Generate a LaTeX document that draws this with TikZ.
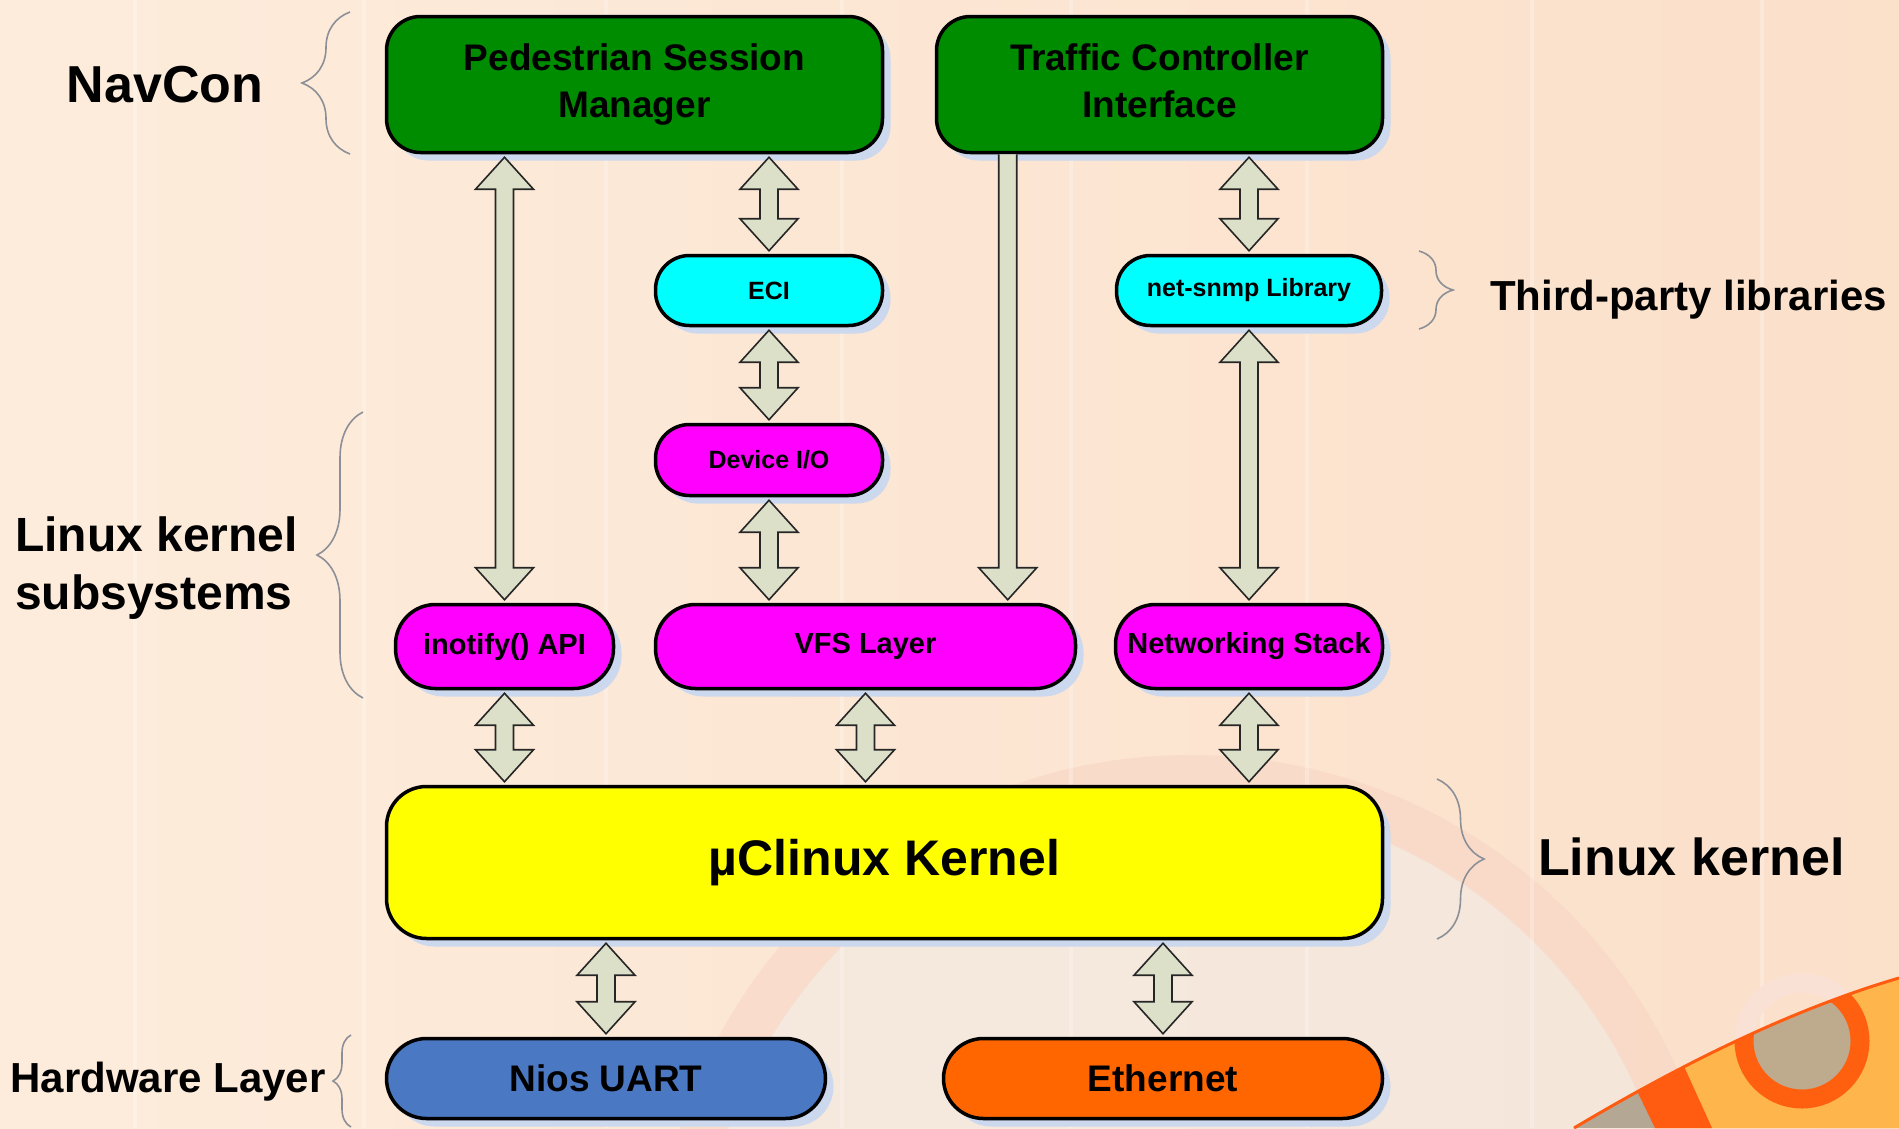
\documentclass[tikz,border=0pt]{standalone}
\usepackage{fontspec}
\setmainfont{Liberation Sans}
\usetikzlibrary{calc,shadows,decorations.pathreplacing}

\definecolor{bgL}{HTML}{FDECDC}
\definecolor{bgR}{HTML}{FBE0CA}
\definecolor{grn}{HTML}{008C00}
\definecolor{cyn}{HTML}{00FFFF}
\definecolor{mag}{HTML}{FF00FF}
\definecolor{yel}{HTML}{FFFF00}
\definecolor{blu}{HTML}{4A78C2}
\definecolor{org}{HTML}{FF6600}
\definecolor{shd}{HTML}{CBD8EE}
\definecolor{arr}{HTML}{DDE0C8}
\definecolor{brc}{HTML}{8C9096}
\definecolor{ringpink}{HTML}{F8D4C4}
\definecolor{ringin}{HTML}{F1EAE4}
\definecolor{swgrey}{HTML}{B4A794}
\definecolor{swyel}{HTML}{FDB54C}
\definecolor{sworg}{HTML}{FF5C12}
\definecolor{swtan}{HTML}{BEAB8E}

\tikzset{
  box/.style={draw=black, line width=3.5pt, align=center, inner sep=0pt,
    font=\bfseries, text=black,
    drop shadow={shadow xshift=8pt, shadow yshift=-8pt, fill=shd, opacity=1}},
  lbl/.style={inner sep=0pt, font=\bfseries, text=black},
  bracestyle/.style={draw=brc, line width=1.6pt, decorate},
  arrline/.style={draw=black!85, line width=1.6pt, line join=miter},
}

% double-headed block arrow from top point #1 to bottom point #2
\newcommand\dblarrow[2]{%
  \path[arrline, fill=arr] let \p1=#1, \p2=#2 in
   (\x1,\y1) -- (\x1+29pt,\y1-32pt) -- (\x1+9pt,\y1-32pt) -- (\x1+9pt,\y2+32pt)
   -- (\x1+29pt,\y2+32pt) -- (\x1,\y2) -- (\x1-29pt,\y2+32pt) -- (\x1-9pt,\y2+32pt)
   -- (\x1-9pt,\y1-32pt) -- (\x1-29pt,\y1-32pt) -- cycle;}
% single-headed block arrow pointing down
\newcommand\sglarrow[2]{%
  \path[fill=arr] let \p1=#1, \p2=#2 in
   (\x1-9pt,\y1) -- (\x1+9pt,\y1) -- (\x1+9pt,\y2+32pt) -- (\x1+29pt,\y2+32pt)
   -- (\x1,\y2) -- (\x1-29pt,\y2+32pt) -- (\x1-9pt,\y2+32pt) -- cycle;
  \path[arrline] let \p1=#1, \p2=#2 in
   (\x1+9pt,\y1) -- (\x1+9pt,\y2+32pt) -- (\x1+29pt,\y2+32pt)
   -- (\x1,\y2) -- (\x1-29pt,\y2+32pt) -- (\x1-9pt,\y2+32pt) -- (\x1-9pt,\y1);}

\begin{document}
\begin{tikzpicture}[x=1pt,y=-1pt]
\useasboundingbox (0,0) rectangle (1899,1128);

% ---------- background ----------
\shade[left color=bgL, right color=bgR] (0,0) rectangle (1899,1128);
\begin{scope}
  \clip (0,0) rectangle (1899,1128);
  \fill[ringin, opacity=0.6] (1190,1290) circle (490);
  \draw[ringpink, line width=46pt, opacity=0.55] (1190,1290) circle (512);
\end{scope}
\foreach \sx in {135,364,606,842,1071,1307,1532,1762}
  \draw[white, opacity=0.25, line width=4pt] (\sx,0) -- (\sx,1128);
% bottom-right swoosh
\draw[ringpink!70!white, line width=19pt] (1802,1041) circle (58);
\begin{scope}
  \clip (1574,1128) .. controls (1680,1065) and (1790,1010) .. (1899,978) -- (1899,1128) -- cycle;
  \fill[swgrey] (1500,900) rectangle (1899,1128);
  \fill[swyel] (1662,1000) -- (1899,900) -- (1899,1128) -- (1700,1128) -- cycle;
  \fill[sworg] (1622,1060) -- (1672,1040) -- (1712,1128) -- (1655,1128) -- cycle;
  \fill[swtan] (1802,1041) circle (49);
  \draw[sworg!90!orange, line width=19pt] (1802,1041) circle (58);
\end{scope}
\draw[sworg, line width=3pt] (1574,1128) .. controls (1680,1065) and (1790,1010) .. (1899,978);

% ---------- boxes ----------
\node[box, fill=grn, rounded corners=34pt, minimum width=496pt, minimum height=136pt,
      font=\fontsize{37}{47}\selectfont\bfseries] (psm) at (634.5,84.5) {Pedestrian Session\\Manager};
\node[box, fill=grn, rounded corners=34pt, minimum width=446pt, minimum height=136pt,
      font=\fontsize{37}{47}\selectfont\bfseries] (tci) at (1159.5,84.5) {Traffic Controller\\Interface\vphantom{g}};
\node[box, fill=cyn, rounded corners=34pt, minimum width=227pt, minimum height=70pt,
      font=\fontsize{25}{30}\selectfont\bfseries] (eci) at (769,290.5) {ECI};
\node[box, fill=cyn, rounded corners=34pt, minimum width=265pt, minimum height=70pt,
      font=\fontsize{25}{30}\selectfont\bfseries] (snmp) at (1249,290.5) {net-snmp Library};
\node[box, fill=mag, rounded corners=34pt, minimum width=227pt, minimum height=71pt,
      font=\fontsize{25}{30}\selectfont\bfseries] (dio) at (769,460) {Device I/O};
\node[box, fill=mag, rounded corners=40pt, minimum width=218pt, minimum height=84pt,
      font=\fontsize{29}{35}\selectfont\bfseries] (ino) at (504.5,646.5) {inotify() API};
\node[box, fill=mag, rounded corners=40pt, minimum width=420pt, minimum height=84pt,
      font=\fontsize{29}{35}\selectfont\bfseries] (vfs) at (865.5,646.5) {VFS Layer};
\node[box, fill=mag, rounded corners=40pt, minimum width=267pt, minimum height=84pt,
      font=\fontsize{29}{35}\selectfont\bfseries] (net) at (1249,646.5) {Networking Stack};
\node[box, fill=yel, rounded corners=40pt, minimum width=996pt, minimum height=152pt,
      font=\fontsize{50}{60}\selectfont\bfseries] (ker) at (884.5,862.5) {µClinux Kernel};
\node[box, fill=blu, rounded corners=40pt, minimum width=439pt, minimum height=80pt,
      font=\fontsize{37}{45}\selectfont\bfseries] (nios) at (606,1078.5) {Nios UART};
\node[box, fill=org, rounded corners=40pt, minimum width=439pt, minimum height=80pt,
      font=\fontsize{37}{45}\selectfont\bfseries] (eth) at (1163,1078.5) {Ethernet};

% ---------- connectors ----------
\dblarrow{([yshift=-3pt]ino.north |- psm.south)}{([yshift=3pt]ino.north)}
\dblarrow{([yshift=-3pt]eci.north |- psm.south)}{([yshift=3pt]eci.north)}
\dblarrow{([yshift=-3pt]eci.south)}{([yshift=3pt]dio.north)}
\dblarrow{([yshift=-3pt]dio.south)}{([yshift=3pt]dio.south |- vfs.north)}
\sglarrow{([xshift=73pt]tci.south west)}{([xshift=73pt,yshift=3pt]tci.south west |- vfs.north)}
\dblarrow{([yshift=-3pt]snmp.north |- tci.south)}{([yshift=3pt]snmp.north)}
\dblarrow{([yshift=-3pt]snmp.south)}{([yshift=3pt]net.north)}
\dblarrow{([yshift=-3pt]ino.south)}{([yshift=3pt]ino.south |- ker.north)}
\dblarrow{([yshift=-3pt]vfs.south)}{([yshift=3pt]vfs.south |- ker.north)}
\dblarrow{([yshift=-3pt]net.south)}{([yshift=3pt]net.south |- ker.north)}
\dblarrow{([yshift=-3pt]nios.north |- ker.south)}{([yshift=3pt]nios.north)}
\dblarrow{([yshift=-3pt]eth.north |- ker.south)}{([yshift=3pt]eth.north)}

% ---------- braces ----------
\draw[bracestyle, decoration={brace, amplitude=48pt}] (350,154) -- (350,12);
\draw[bracestyle, decoration={brace, amplitude=46pt}] (363,698) -- (363,412);
\draw[bracestyle, decoration={brace, amplitude=18pt}] (351,1127) -- (351,1035);
\draw[bracestyle, decoration={brace, amplitude=34pt}] (1419,251) -- (1419,329);
\draw[bracestyle, decoration={brace, amplitude=47pt}] (1437,779) -- (1437,939);

% ---------- labels ----------
\node[lbl, font=\fontsize{52}{60}\selectfont\bfseries] (navcon) at (165,85) {NavCon};
\node[lbl, anchor=west, align=left, font=\fontsize{48}{58}\selectfont\bfseries] (lks) at (15,568) {Linux kernel\\subsystems};
\node[lbl, font=\fontsize{42}{50}\selectfont\bfseries] (hwl) at (168,1082) {Hardware Layer};
\node[lbl, anchor=west, font=\fontsize{42}{50}\selectfont\bfseries] (tpl) at (1490,300) {Third-party libraries};
\node[lbl, anchor=west, font=\fontsize{52}{60}\selectfont\bfseries] (lkr) at (1538,857) {Linux kernel};
\end{tikzpicture}
\end{document}
